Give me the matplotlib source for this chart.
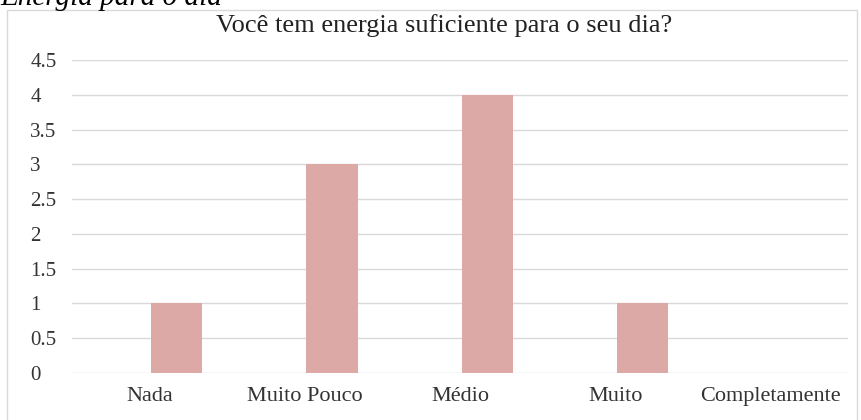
import matplotlib.pyplot as plt
import matplotlib.patches as mpatches
import numpy as np

# data
categories = ["Nada", "Muito Pouco", "Médio", "Muito", "Completamente"]
values = [1, 3, 4, 1, 0]
yticks = [0, 0.5, 1, 1.5, 2, 2.5, 3, 3.5, 4, 4.5]
ytick_labels = ["0", "0.5", "1", "1.5", "2", "2.5", "3", "3.5", "4", "4.5"]

plt.rcParams['font.family'] = ['Liberation Serif', 'DejaVu Serif']

W, H = 862, 420
fig = plt.figure(figsize=(W / 100, H / 100), dpi=100)

# chart frame
frame = mpatches.Rectangle((7 / W, -0.01), 850 / W, 1 - 10 / H + 0.01,
                           transform=fig.transFigure, fill=False,
                           edgecolor='#d9d9d9', linewidth=1)
fig.patches.append(frame)

# cut-off caption above the chart
fig.text(0.0, 1 - 5 / H, "Energia para o dia", fontsize=21, style='italic',
         ha='left', va='baseline', color='black')

ax = fig.add_axes([72 / W, 1 - 373 / H, (848 - 72) / W, (373 - 60) / H])

x = np.arange(len(categories))
ax.bar(x + 0.175, values, width=0.33, color='#dda9a7')

ax.set_xlim(-0.5, len(categories) - 0.5)
ax.set_ylim(0, 4.5)
ax.set_yticks(yticks)
ax.set_yticklabels(ytick_labels, ha='left')
ax.set_xticks(x)
ax.set_xticklabels(categories)
ax.tick_params(axis='y', length=0, pad=30, labelsize=15, labelcolor='#333333')
ax.tick_params(axis='x', length=0, pad=10, labelsize=16, labelcolor='#333333')

ax.grid(axis='y', color='#d9d9d9', linewidth=1)
ax.set_axisbelow(True)
for s in ax.spines.values():
    s.set_visible(False)

fig.text(444 / W, 1 - 32 / H, "Você tem energia suficiente para o seu dia?",
         fontsize=19, ha='center', va='baseline', color='#222222')

fig.savefig("out.png", dpi=100)
